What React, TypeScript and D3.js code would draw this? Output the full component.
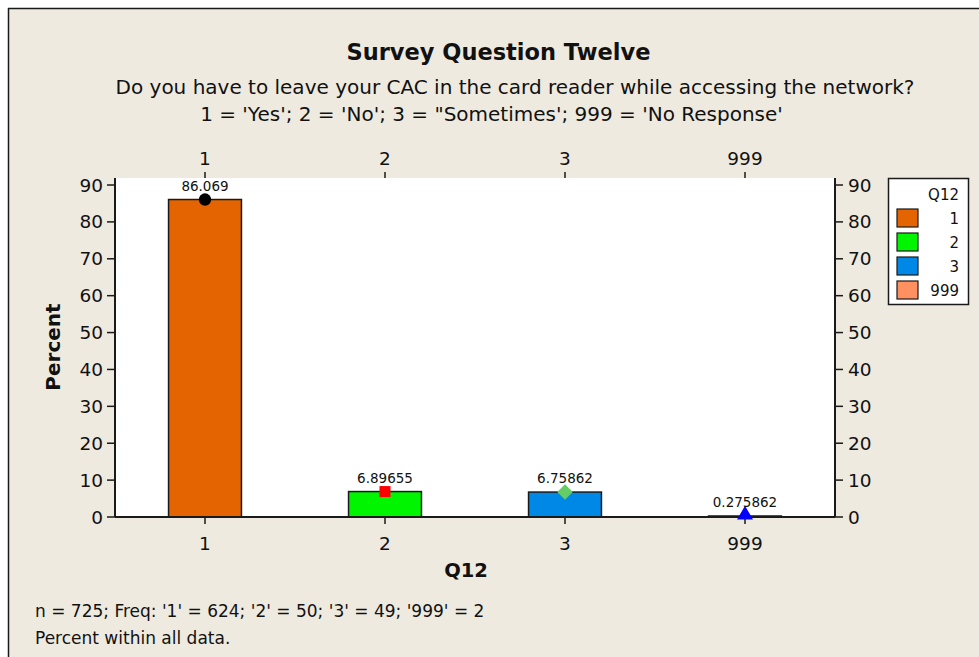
import React from "react";
import * as d3 from "d3";

const categories = ["1", "2", "3", "999"];
const percents = [86.069, 6.89655, 6.75862, 0.275862];
const valueLabels = ["86.069", "6.89655", "6.75862", "0.275862"];
const barColors = ["#E36400", "#00F500", "#0088E6", "#FF9060"];
const markerShapes = ["circle", "square", "diamond", "triangle"];
const markerColors = ["#000000", "#FF0000", "#66CC66", "#0000FF"];
const yTicks = [0, 10, 20, 30, 40, 50, 60, 70, 80, 90];

const FONT = "'DejaVu Sans', Verdana, sans-serif";
const BG = "#EEEAE0";

export default function App() {
  const W = 979, H = 657;
  const left = 115, right = 835, top = 178, bottom = 517;
  const x = d3.scaleBand<string>().domain(categories).range([left, right]).padding(0);
  const y = d3.scaleLinear().domain([0, 91.9]).range([bottom, top]);
  const bw = x.bandwidth() * 0.405;

  const marker = (shape: string, cx: number, cy: number, color: string) => {
    if (shape === "circle") {
      return <path d={d3.symbol().type(d3.symbolCircle).size(120)() || ""} transform={`translate(${cx},${cy})`} fill={color} />;
    }
    if (shape === "square") {
      return <path d={d3.symbol().type(d3.symbolSquare).size(121)() || ""} transform={`translate(${cx},${cy})`} fill={color} />;
    }
    if (shape === "diamond") {
      return <path d={d3.symbol().type(d3.symbolSquare).size(121)() || ""} transform={`translate(${cx},${cy}) rotate(45)`} fill={color} />;
    }
    return <path d={d3.symbol().type(d3.symbolTriangle).size(110)() || ""} transform={`translate(${cx},${cy - 1})`} fill={color} />;
  };

  return (
    <svg width={W} height={H} style={{ position: "absolute", left: 0, top: 0, fontFamily: FONT }}>
      <rect x={0} y={0} width={W} height={H} fill="#FFFFFF" />
      <rect x={8} y={8} width={W} height={H} fill={BG} />
      <line x1={8.5} y1={8} x2={8.5} y2={H} stroke="#1a1a1a" strokeWidth={1.5} />
      <line x1={8} y1={8.5} x2={W} y2={8.5} stroke="#1a1a1a" strokeWidth={1.5} />

      <text x={498.5} y={60} textAnchor="middle" fontSize={22.5} fontWeight="bold" fill="#111">Survey Question Twelve</text>
      <text x={515} y={94} textAnchor="middle" fontSize={20} fill="#111">Do you have to leave your CAC in the card reader while accessing the network?</text>
      <text x={491.5} y={121} textAnchor="middle" fontSize={20} fill="#111">1 = 'Yes'; 2 = 'No'; 3 = "Sometimes'; 999 = 'No Response'</text>

      <rect x={left} y={top} width={right - left} height={bottom - top} fill="#FFFFFF" />

      {categories.map((c, i) => {
        const cx = (x(c) || 0) + x.bandwidth() / 2;
        const yv = y(percents[i]);
        return (
          <g key={c}>
            <rect x={cx - bw / 2} y={yv} width={bw} height={bottom - yv} fill={barColors[i]} stroke="#1a1a1a" strokeWidth={1.5} />
          </g>
        );
      })}

      <line x1={left} y1={top} x2={left} y2={bottom} stroke="#1a1a1a" strokeWidth={2} />
      <line x1={right} y1={top} x2={right} y2={bottom} stroke="#1a1a1a" strokeWidth={2} />
      <line x1={left} y1={bottom} x2={right} y2={bottom} stroke="#1a1a1a" strokeWidth={2} />

      {yTicks.map((t) => (
        <g key={t}>
          <line x1={left - 8} y1={y(t)} x2={left} y2={y(t)} stroke="#1a1a1a" strokeWidth={1.5} />
          <text x={left - 12} y={y(t) + 6.5} textAnchor="end" fontSize={18.5} fill="#111">{t}</text>
          <line x1={right} y1={y(t)} x2={right + 8} y2={y(t)} stroke="#1a1a1a" strokeWidth={1.5} />
          <text x={right + 13} y={y(t) + 6.5} textAnchor="start" fontSize={18.5} fill="#111">{t}</text>
        </g>
      ))}

      {categories.map((c, i) => {
        const cx = (x(c) || 0) + x.bandwidth() / 2;
        const yv = y(percents[i]);
        return (
          <g key={"m" + c}>
            <line x1={cx} y1={bottom} x2={cx} y2={bottom + 7} stroke="#1a1a1a" strokeWidth={1.5} />
            <text x={cx} y={550} textAnchor="middle" fontSize={18.5} fill="#111">{c}</text>
            <line x1={cx} y1={top - 6} x2={cx} y2={top} stroke="#1a1a1a" strokeWidth={1.5} />
            <text x={cx} y={165} textAnchor="middle" fontSize={18.5} fill="#111">{c}</text>
            {marker(markerShapes[i], cx, yv, markerColors[i])}
            <text x={cx} y={yv - 9} textAnchor="middle" fontSize={13.5} fill="#111">{valueLabels[i]}</text>
          </g>
        );
      })}

      <text x={466} y={577} textAnchor="middle" fontSize={19.5} fontWeight="bold" fill="#111">Q12</text>
      <text transform={`translate(60,347) rotate(-90)`} textAnchor="middle" fontSize={20} fontWeight="bold" fill="#111">Percent</text>

      <rect x={888.5} y={178.5} width={80} height={126} fill="#FFFFFF" stroke="#1a1a1a" strokeWidth={1.5} />
      <text x={959} y={200} textAnchor="end" fontSize={15} fill="#111">Q12</text>
      {categories.map((c, i) => (
        <g key={"l" + c}>
          <rect x={897} y={209 + i * 24} width={21} height={18} fill={barColors[i]} stroke="#1a1a1a" strokeWidth={1.2} />
          <text x={959} y={224 + i * 24} textAnchor="end" fontSize={15} fill="#111">{c}</text>
        </g>
      ))}

      <text x={35} y={617} fontSize={17} fill="#111">n = 725; Freq: '1' = 624; '2' = 50; '3' = 49; '999' = 2</text>
      <text x={35} y={644} fontSize={17} fill="#111">Percent within all data.</text>
    </svg>
  );
}
